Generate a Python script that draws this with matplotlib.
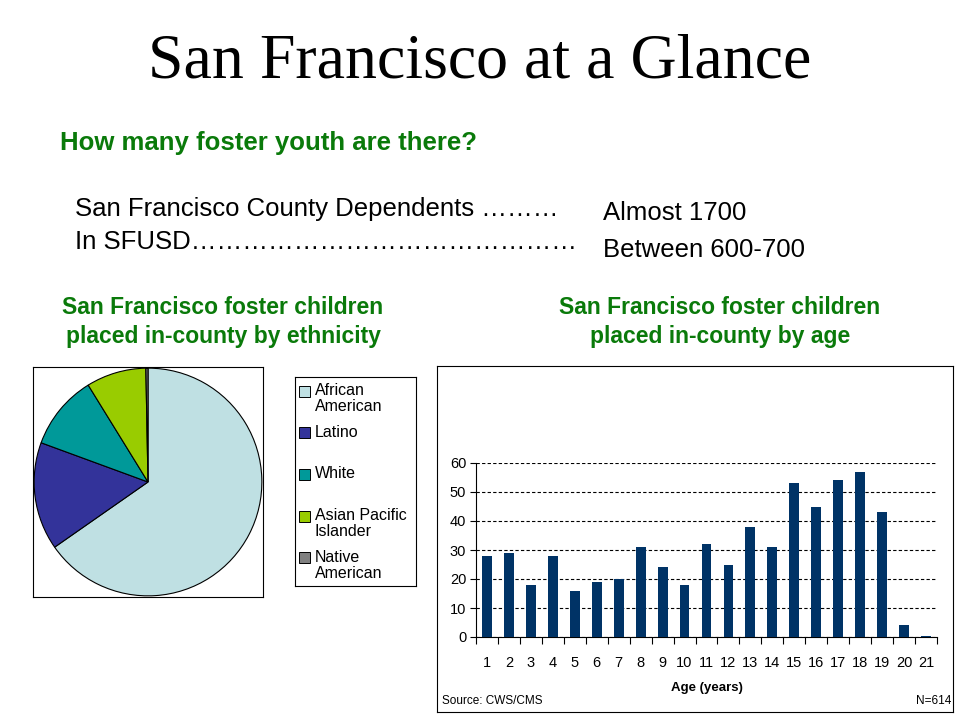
import matplotlib.pyplot as plt
from matplotlib.patches import Rectangle

# ethnicity pie data (approx. shares)
ethnicities = ["African\nAmerican", "Latino", "White", "Asian Pacific\nIslander", "Native\nAmerican"]
eth_share = [65.3, 15.3, 10.6, 8.5, 0.3]
eth_colors = ["#bfe0e3", "#33339a", "#009999", "#99cc00", "#808080"]

# age bar data
ages = [str(a) for a in range(1, 22)]
age_counts = [28, 29, 18, 28, 16, 19, 20, 31, 24, 18, 32, 25, 38, 31, 53, 45, 54, 57, 43, 4, 0.5]

W, H = 960, 720
green = "#0a7a0a"
plt.rcParams['font.family'] = ['Liberation Sans', 'DejaVu Sans']

fig = plt.figure(figsize=(9.6, 7.2), dpi=100)


def box(x0, y0, x1, y1):
    # axes from pixel box (top-left origin)
    return fig.add_axes([x0 / W, 1 - y1 / H, (x1 - x0) / W, (y1 - y0) / H])


fig.text(0.5, 1 - 62 / H, "San Francisco at a Glance", family="Liberation Serif",
         fontsize=46, ha="center", va="center")
fig.text(60 / W, 1 - 143 / H, "How many foster youth are there?", color=green,
         fontsize=18.5, fontweight="bold", va="center")
fig.text(75 / W, 1 - 209 / H, "San Francisco County Dependents \u2026\u2026\u2026",
         fontsize=18.5, va="center")
fig.text(75 / W, 1 - 242 / H, "In SFUSD" + "\u2026" * 15, fontsize=18.5, va="center")
fig.text(603 / W, 1 - 213 / H, "Almost 1700", fontsize=18.5, va="center")
fig.text(603 / W, 1 - 250 / H, "Between 600-700", fontsize=18.5, va="center")

fig.text(223 / W, 1 - 322 / H, "San Francisco foster children\nplaced in-county by ethnicity",
         color=green, fontsize=16.5, fontweight="bold", ha="center", va="center", linespacing=1.3)
fig.text(720 / W, 1 - 322 / H, "San Francisco foster children\nplaced in-county by age",
         color=green, fontsize=16.5, fontweight="bold", ha="center", va="center", linespacing=1.3)

# pie
ax_pie = box(33, 367, 263, 597)
ax_pie.pie(eth_share, colors=eth_colors, startangle=90, counterclock=False,
           wedgeprops=dict(edgecolor="black", linewidth=0.8))
ax_pie.set_frame_on(True)
ax_pie.set_xlim(-1.01, 1.01)
ax_pie.set_ylim(-1.01, 1.01)
ax_pie.set_aspect("auto")
ax_pie.set_xticks([])
ax_pie.set_yticks([])
for s in ax_pie.spines.values():
    s.set_visible(True)
    s.set_linewidth(0.8)

# legend box
ax_leg = box(295, 377, 416, 586)
ax_leg.set_xlim(0, 121)
ax_leg.set_ylim(209, 0)
ax_leg.set_xticks([])
ax_leg.set_yticks([])
for s in ax_leg.spines.values():
    s.set_linewidth(0.8)
for i, (lab, col) in enumerate(zip(ethnicities, eth_colors)):
    y = 14 + i * 41.7
    ax_leg.add_patch(Rectangle((4, y - 5.5), 11, 11, facecolor=col, edgecolor="black", linewidth=0.7))
    ax_leg.text(20, y - 8, lab, fontsize=11.5, va="top", ha="left", linespacing=1.1)

# bar chart frame
ax_frame = box(437, 366, 953, 712)
ax_frame.set_xticks([])
ax_frame.set_yticks([])
for s in ax_frame.spines.values():
    s.set_linewidth(0.8)
ax_frame.text(5 / 516, 11 / 346, "Source: CWS/CMS", transform=ax_frame.transAxes,
              fontsize=8.5, va="center", ha="left")
ax_frame.text(1 - 2 / 516, 11 / 346, "N=614", transform=ax_frame.transAxes,
              fontsize=8.5, va="center", ha="right")

ax = box(476, 463, 937, 637)
x = list(range(len(ages)))
ax.bar(x, age_counts, width=0.45, color="#003366", zorder=3)
ax.set_xlim(-0.5, len(ages) - 0.5)
ax.set_ylim(0, 60)
ax.set_yticks(range(0, 61, 10))
ax.yaxis.grid(True, linestyle=(0, (3, 2)), color="black", linewidth=0.8)
ax.set_axisbelow(True)
ax.set_xticks(x)
ax.set_xticklabels(ages, fontsize=10.5)
ax.set_xticks([i - 0.5 for i in range(len(ages) + 1)], minor=True)
ax.tick_params(axis="x", which="major", length=0, pad=14)
ax.tick_params(axis="x", which="minor", length=5, direction="out", width=0.8)
ax.tick_params(axis="y", labelsize=10.5, length=4, width=0.8, pad=3)
ax.spines["top"].set_visible(False)
ax.spines["right"].set_visible(False)
ax.spines["left"].set_linewidth(0.8)
ax.spines["bottom"].set_linewidth(0.8)
ax.set_xlabel("Age (years)", fontsize=9.5, fontweight="bold", labelpad=8)

fig.savefig("out.png", dpi=100)
